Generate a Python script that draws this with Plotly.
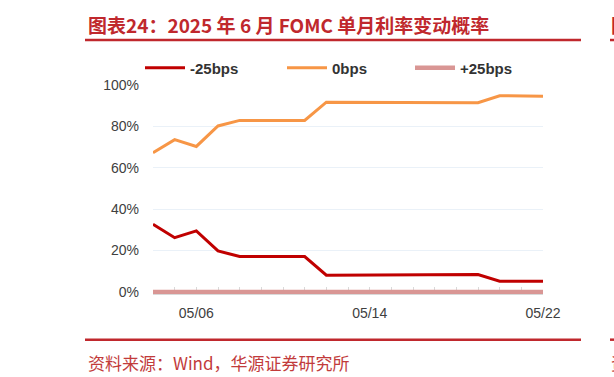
import plotly.graph_objects as go

dates = ["05/04", "05/05", "05/06", "05/07", "05/08", "05/09", "05/10", "05/11", "05/12",
         "05/13", "05/14", "05/15", "05/16", "05/17", "05/18", "05/19", "05/20", "05/21", "05/22"]
tick_labels = ["05/06", "05/14", "05/22"]
cut_25 = [32.7, 26.2, 29.5, 19.8, 17.1, 17.1, 17.1, 17.1, 8.1, 8.1, 8.1, 8.1,
          8.4, 8.4, 8.4, 8.4, 5.2, 5.2, 5.2]
hold_0 = [67.3, 73.6, 70.3, 80.2, 82.9, 82.9, 82.9, 82.9, 91.7, 91.7, 91.7, 91.7,
          91.4, 91.4, 91.4, 91.4, 94.8, 94.6, 94.6]
hike_25 = [0.0] * len(dates)

# pixel layout helpers
W, H = 614, 377
L, R, T, B = 153, 543, 85, 294.1


def px(x):
    return (x - L) / (R - L)


def py(y):
    return (B - y) / (B - T)


fig = go.Figure()
fig.add_trace(go.Scatter(x=dates, y=hike_25, mode="lines", name="+25bps",
                         line=dict(color="#D99694", width=4.5), legend="legend3"))
fig.add_trace(go.Scatter(x=dates, y=hold_0, mode="lines", name="0bps",
                         line=dict(color="#F79646", width=3), legend="legend2"))
fig.add_trace(go.Scatter(x=dates, y=cut_25, mode="lines", name="-25bps",
                         line=dict(color="#C00000", width=3), legend="legend"))

legend_font = dict(family="Liberation Sans, Arial", size=15, color="#333333", weight="bold")
common = dict(xref="container", yref="container", xanchor="left", yanchor="middle",
              bgcolor="rgba(0,0,0,0)", font=legend_font, borderwidth=0, itemwidth=40)

fig.update_layout(
    width=W, height=H,
    margin=dict(l=L, r=W - R, t=T, b=H - B, autoexpand=False),
    paper_bgcolor="white", plot_bgcolor="white",
    showlegend=True,
    legend=dict(x=(140) / W, y=1 - 68 / H, **common),
    legend2=dict(x=(282) / W, y=1 - 68 / H, **common),
    legend3=dict(x=(410) / W, y=1 - 68 / H, **common),
    xaxis=dict(type="category", range=[0, len(dates) - 1],
               tickvals=dates,
               ticktext=[d if d in tick_labels else "" for d in dates],
               tickangle=0, layer="below traces",
               ticks="inside", ticklen=7, tickcolor="#D9D9D9",
               ticklabelstandoff=6,
               showgrid=False, showline=True, linecolor="#D9D9D9",
               tickfont=dict(family="Liberation Sans, Arial", size=14, color="#404040"),
               zeroline=False),
    yaxis=dict(range=[-1, 100], tickvals=[0, 20, 40, 60, 80, 100],
               ticktext=["0%", "20%", "40%", "60%", "80%", "100%"],
               showgrid=True, gridcolor="#EAF1F8", gridwidth=1,
               zeroline=False, showline=False, ticks="",
               ticklabelstandoff=13, layer="below traces",
               tickfont=dict(family="Liberation Sans, Arial", size=14, color="#404040")),
)

red = "#C0282D"
shapes = []
for yy in (40, 339.8):
    shapes.append(dict(type="line", xref="paper", yref="paper",
                       x0=px(85), x1=px(581), y0=py(yy), y1=py(yy),
                       line=dict(color=red, width=2.5)))
    shapes.append(dict(type="line", xref="paper", yref="paper",
                       x0=px(610), x1=px(620), y0=py(yy), y1=py(yy),
                       line=dict(color=red, width=2.5)))
fig.update_layout(shapes=shapes)

fig.add_annotation(text="图表24：2025 年 6 月 FOMC 单月利率变动概率",
                   xref="paper", yref="paper", x=px(86), y=py(24),
                   xanchor="left", yanchor="middle", showarrow=False,
                   font=dict(family="Noto Sans CJK SC", size=19, color=red, weight="bold"))
fig.add_annotation(text="资料来源：Wind，华源证券研究所",
                   xref="paper", yref="paper", x=px(86), y=py(363),
                   xanchor="left", yanchor="middle", showarrow=False,
                   font=dict(family="Noto Sans CJK SC", size=17, color="#C23B3B"))
fig.add_annotation(text="图", xref="paper", yref="paper", x=px(609), y=py(24),
                   xanchor="left", yanchor="middle", showarrow=False,
                   font=dict(family="Noto Sans CJK SC", size=19, color=red, weight="bold"))
fig.add_annotation(text="资", xref="paper", yref="paper", x=px(609), y=py(363),
                   xanchor="left", yanchor="middle", showarrow=False,
                   font=dict(family="Noto Sans CJK SC", size=17, color="#C23B3B"))

fig.write_html("out.html")
